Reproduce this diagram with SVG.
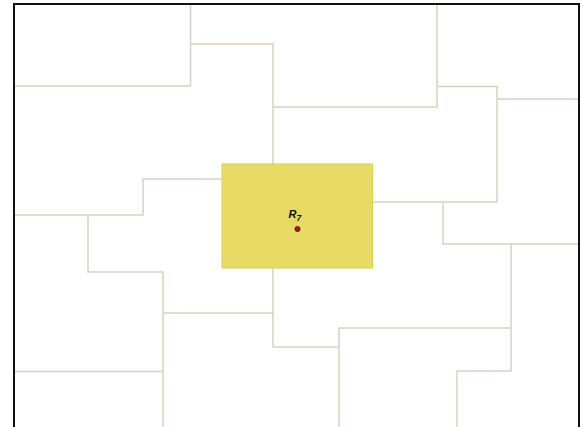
<svg xmlns="http://www.w3.org/2000/svg" width="581" height="427" viewBox="0 0 581 427">
<style>
.ln{fill:none;stroke:#d5d1c3;stroke-width:1.5}
.frame{fill:none;stroke:#111;stroke-width:2}
.lbl{font-family:"Liberation Sans",Arial,sans-serif;font-weight:bold;font-style:italic;fill:#111}
</style>
<rect x="0" y="0" width="581" height="427" fill="#ffffff"/>
<g id="connectors">
<polyline class="ln" points="14,86 190.5,86 190.5,4"/>
<polyline class="ln" points="190.5,44 273,44 273,164"/>
<polyline class="ln" points="273,107 437,107 437,4"/>
<polyline class="ln" points="437,86.5 497,86.5 497,202 372.5,202"/>
<polyline class="ln" points="497,99 579,99"/>
<polyline class="ln" points="443,202 443,244 579,244"/>
<polyline class="ln" points="222,179 143,179 143,215 14,215"/>
<polyline class="ln" points="88,215 88,272 163,272 163,427"/>
<polyline class="ln" points="14,371.5 163,371.5"/>
<polyline class="ln" points="163,313 273,313"/>
<polyline class="ln" points="273,268 273,347 339,347"/>
<polyline class="ln" points="339,427 339,328 511,328"/>
<polyline class="ln" points="511,244 511,371 457,371 457,427"/>
</g>
<g id="R7">
<rect x="222" y="164" width="150.5" height="104" fill="#e7da65" stroke="#d8cc58" stroke-width="1"/>
<text class="lbl" x="288.5" y="218.3" font-size="11">R<tspan font-size="8.5" dy="2.7">7</tspan></text>
<circle cx="297.5" cy="229" r="2.6" fill="#a01c24" stroke="#5a0c10" stroke-width="0.8"/>
</g>
<polyline class="frame" points="14,428 14,4 579,4 579,428"/>
</svg>
